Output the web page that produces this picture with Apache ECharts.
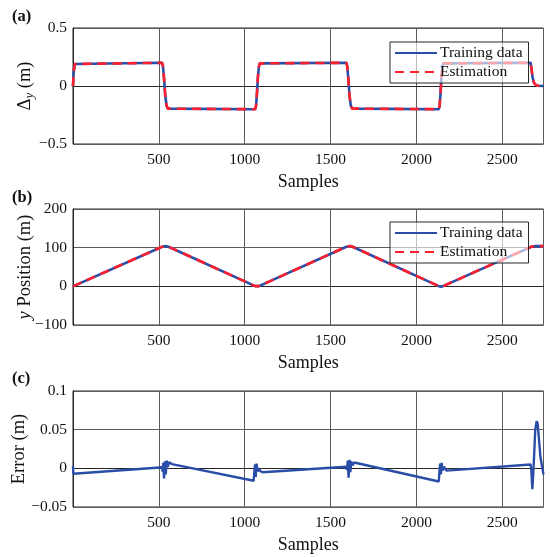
<!DOCTYPE html>
<html>
<head>
    <meta charset="utf-8">
    <title>Training data vs Estimation</title>
    <script src="https://cdn.jsdelivr.net/npm/echarts@6/dist/echarts.min.js"></script>
    <style>
        html, body { margin: 0; padding: 0; background: #fff; }
        #main { width: 550px; height: 557px; }
    </style>
</head>
<body>
<div id="main"></div>
<script>
    // x range / ticks shared by all three panels
    var xMax = 2740;
    var xTicks = [500, 1000, 1500, 2000, 2500];

    // (a) delta y, step between +0.2 and -0.2
    var deltaY = [
        [0, 0], [4, 0.12], [10, 0.19], [16, 0.2],
        [519, 0.2], [524, 0.17], [530, 0.07], [537, -0.08], [545, -0.17], [552, -0.195], [558, -0.2],
        [1061, -0.2], [1066, -0.17], [1071, -0.07], [1077, 0.08], [1083, 0.17], [1088, 0.195], [1093, 0.2],
        [1592, 0.2], [1597, 0.17], [1603, 0.07], [1610, -0.08], [1618, -0.17], [1626, -0.195], [1632, -0.2],
        [2130, -0.2], [2135, -0.17], [2140, -0.07], [2146, 0.08], [2152, 0.17], [2157, 0.195], [2162, 0.2],
        [2665, 0.2], [2670, 0.15], [2676, 0.08], [2684, 0.03], [2694, 0.01], [2706, 0.002], [2740, 0]
    ];
    // estimation sits right on top of the training data
    var deltaYEst = deltaY;

    // (b) y position, triangle wave
    var posY = [
        [0, 0], [519, 102.5], [530, 104], [540, 104.3], [556, 102.5],
        [1061, 0.5], [1071, -0.8], [1083, 0.5],
        [1592, 102.5], [1603, 104], [1613, 104.3], [1628, 102.5],
        [2130, 0.5], [2142, -0.8], [2155, 0.5],
        [2665, 101.5], [2680, 103.5], [2695, 104], [2740, 104]
    ];
    var posYEst = posY;

    // (c) error between estimation and training data
    var errY = [
        [0, 0.003], [2, -0.007], [505, 0.001], [517, 0.002], [522, -0.004], [526, 0.007],
        [530, -0.013], [535, 0.009], [540, -0.008], [546, 0.01], [552, 0.002], [560, 0.008],
        [576, 0.0055],
        [1052, -0.016], [1056, -0.005], [1060, 0.005], [1064, -0.011], [1069, 0.006], [1074, -0.004],
        [1082, 0.0], [1092, -0.004], [1105, -0.005],
        [1590, 0.002], [1596, -0.002], [1600, 0.01], [1605, -0.012], [1610, 0.011], [1615, -0.005],
        [1621, 0.009], [1628, 0.004], [1638, 0.0075],
        [2130, -0.017], [2134, -0.004], [2138, 0.006], [2142, -0.008], [2147, 0.007], [2152, -0.003],
        [2160, 0.002], [2175, -0.003],
        [2665, 0.005], [2669, -0.002], [2675, -0.027], [2681, -0.005], [2692, 0.05],
        [2700, 0.061], [2706, 0.058], [2722, 0.015], [2740, -0.008]
    ];

    var serif = 'Liberation Serif';
    var frame = '#262626';
    var gridCol = '#5c5c5c';
    var blue = '#2a4ea8';
    var red = '#ff1f2d';

    function minus(v) {
        return String(v).replace('-', '\u2212');
    }

    function xAxisFor(idx) {
        return {
            gridIndex: idx, type: 'value', min: 0, max: xMax, interval: 500,
            name: 'Samples', nameLocation: 'middle', nameGap: 29,
            nameTextStyle: {fontFamily: serif, fontSize: 18, color: '#111'},
            axisLine: {show: true, lineStyle: {color: frame}},
            axisTick: {show: false},
            axisLabel: {
                fontFamily: serif, fontSize: 15.5, color: '#111', margin: 8,
                showMinLabel: false, showMaxLabel: false,
                formatter: function (v) { return xTicks.indexOf(v) >= 0 ? v : ''; }
            },
            splitLine: {show: true, lineStyle: {color: gridCol, width: 1}}
        };
    }

    function yAxisFor(idx, min, max, step, name, gap, rich) {
        return {
            gridIndex: idx, type: 'value', min: min, max: max, interval: step,
            name: name, nameLocation: 'middle', nameGap: gap, nameMoveOverlap: false,
            nameTextStyle: {fontFamily: serif, fontSize: 18.5, color: '#111', rich: rich},
            axisLine: {show: true, lineStyle: {color: frame}},
            axisTick: {show: false},
            axisLabel: {fontFamily: serif, fontSize: 15.5, color: '#111', margin: 6, formatter: minus},
            splitLine: {show: true, lineStyle: {color: gridCol, width: 1}}
        };
    }

    function legendFor(top) {
        return {
            data: ['Training data', 'Estimation'],
            orient: 'vertical', left: 390, top: top,
            itemWidth: 42, itemHeight: 14, itemGap: 3,
            padding: [3, 6, 3, 4],
            backgroundColor: 'rgba(255,255,255,0.6)',
            borderColor: frame, borderWidth: 1, borderRadius: 0,
            selectedMode: false,
            itemStyle: {opacity: 0},
            textStyle: {fontFamily: serif, fontSize: 15.5, color: '#111', padding: [0, 0, 0, -2]}
        };
    }

    var chart = echarts.init(document.getElementById('main'));
    chart.setOption({
        animation: false,
        title: [
            {text: '(a)', left: 7, top: 3},
            {text: '(b)', left: 7, top: 184},
            {text: '(c)', left: 7, top: 365}
        ].map(function (t) {
            t.textStyle = {fontFamily: serif, fontSize: 16.5, fontWeight: 'bold', color: '#111'};
            return t;
        }),
        legend: [legendFor(42), legendFor(222)],
        grid: [
            {left: 73, right: 6.5, top: 28, height: 116},
            {left: 73, right: 6.5, top: 209, height: 116},
            {left: 73, right: 6.5, top: 391, height: 116}
        ].map(function (g) {
            g.show = true;
            g.borderColor = frame;
            g.borderWidth = 1;
            g.outerBoundsMode = 'none';
            g.containLabel = false;
            return g;
        }),
        xAxis: [xAxisFor(0), xAxisFor(1), xAxisFor(2)],
        yAxis: [
            yAxisFor(0, -0.5, 0.5, 0.5, '{d|\u0394}{s|y} (m)', 38, {
                d: {fontFamily: serif, fontSize: 18.5, color: '#111'},
                s: {fontFamily: serif, fontSize: 13, fontStyle: 'italic', color: '#111', padding: [0, 0, -8, 0]}
            }),
            yAxisFor(1, -100, 200, 100, '{i|y} Position (m)', 38, {
                i: {fontFamily: serif, fontSize: 18.5, fontStyle: 'italic', color: '#111'}
            }),
            yAxisFor(2, -0.05, 0.1, 0.05, 'Error (m)', 44, {})
        ],
        series: [
            {name: 'Training data', type: 'line', xAxisIndex: 0, yAxisIndex: 0, data: deltaY,
                symbol: 'none', lineStyle: {color: blue, width: 2.6}, itemStyle: {color: blue}},
            {name: 'Estimation', type: 'line', xAxisIndex: 0, yAxisIndex: 0, data: deltaYEst,
                symbol: 'none', lineStyle: {color: red, width: 2.6, type: [9, 6]}, itemStyle: {color: red}},
            {name: 'Training data', type: 'line', xAxisIndex: 1, yAxisIndex: 1, data: posY,
                symbol: 'none', lineStyle: {color: blue, width: 2.6}, itemStyle: {color: blue}},
            {name: 'Estimation', type: 'line', xAxisIndex: 1, yAxisIndex: 1, data: posYEst,
                symbol: 'none', lineStyle: {color: red, width: 2.6, type: [9, 6]}, itemStyle: {color: red}},
            {name: 'Error', type: 'line', xAxisIndex: 2, yAxisIndex: 2, data: errY,
                symbol: 'none', lineStyle: {color: blue, width: 2.4}, itemStyle: {color: blue}}
        ]
    });
</script>
</body>
</html>
